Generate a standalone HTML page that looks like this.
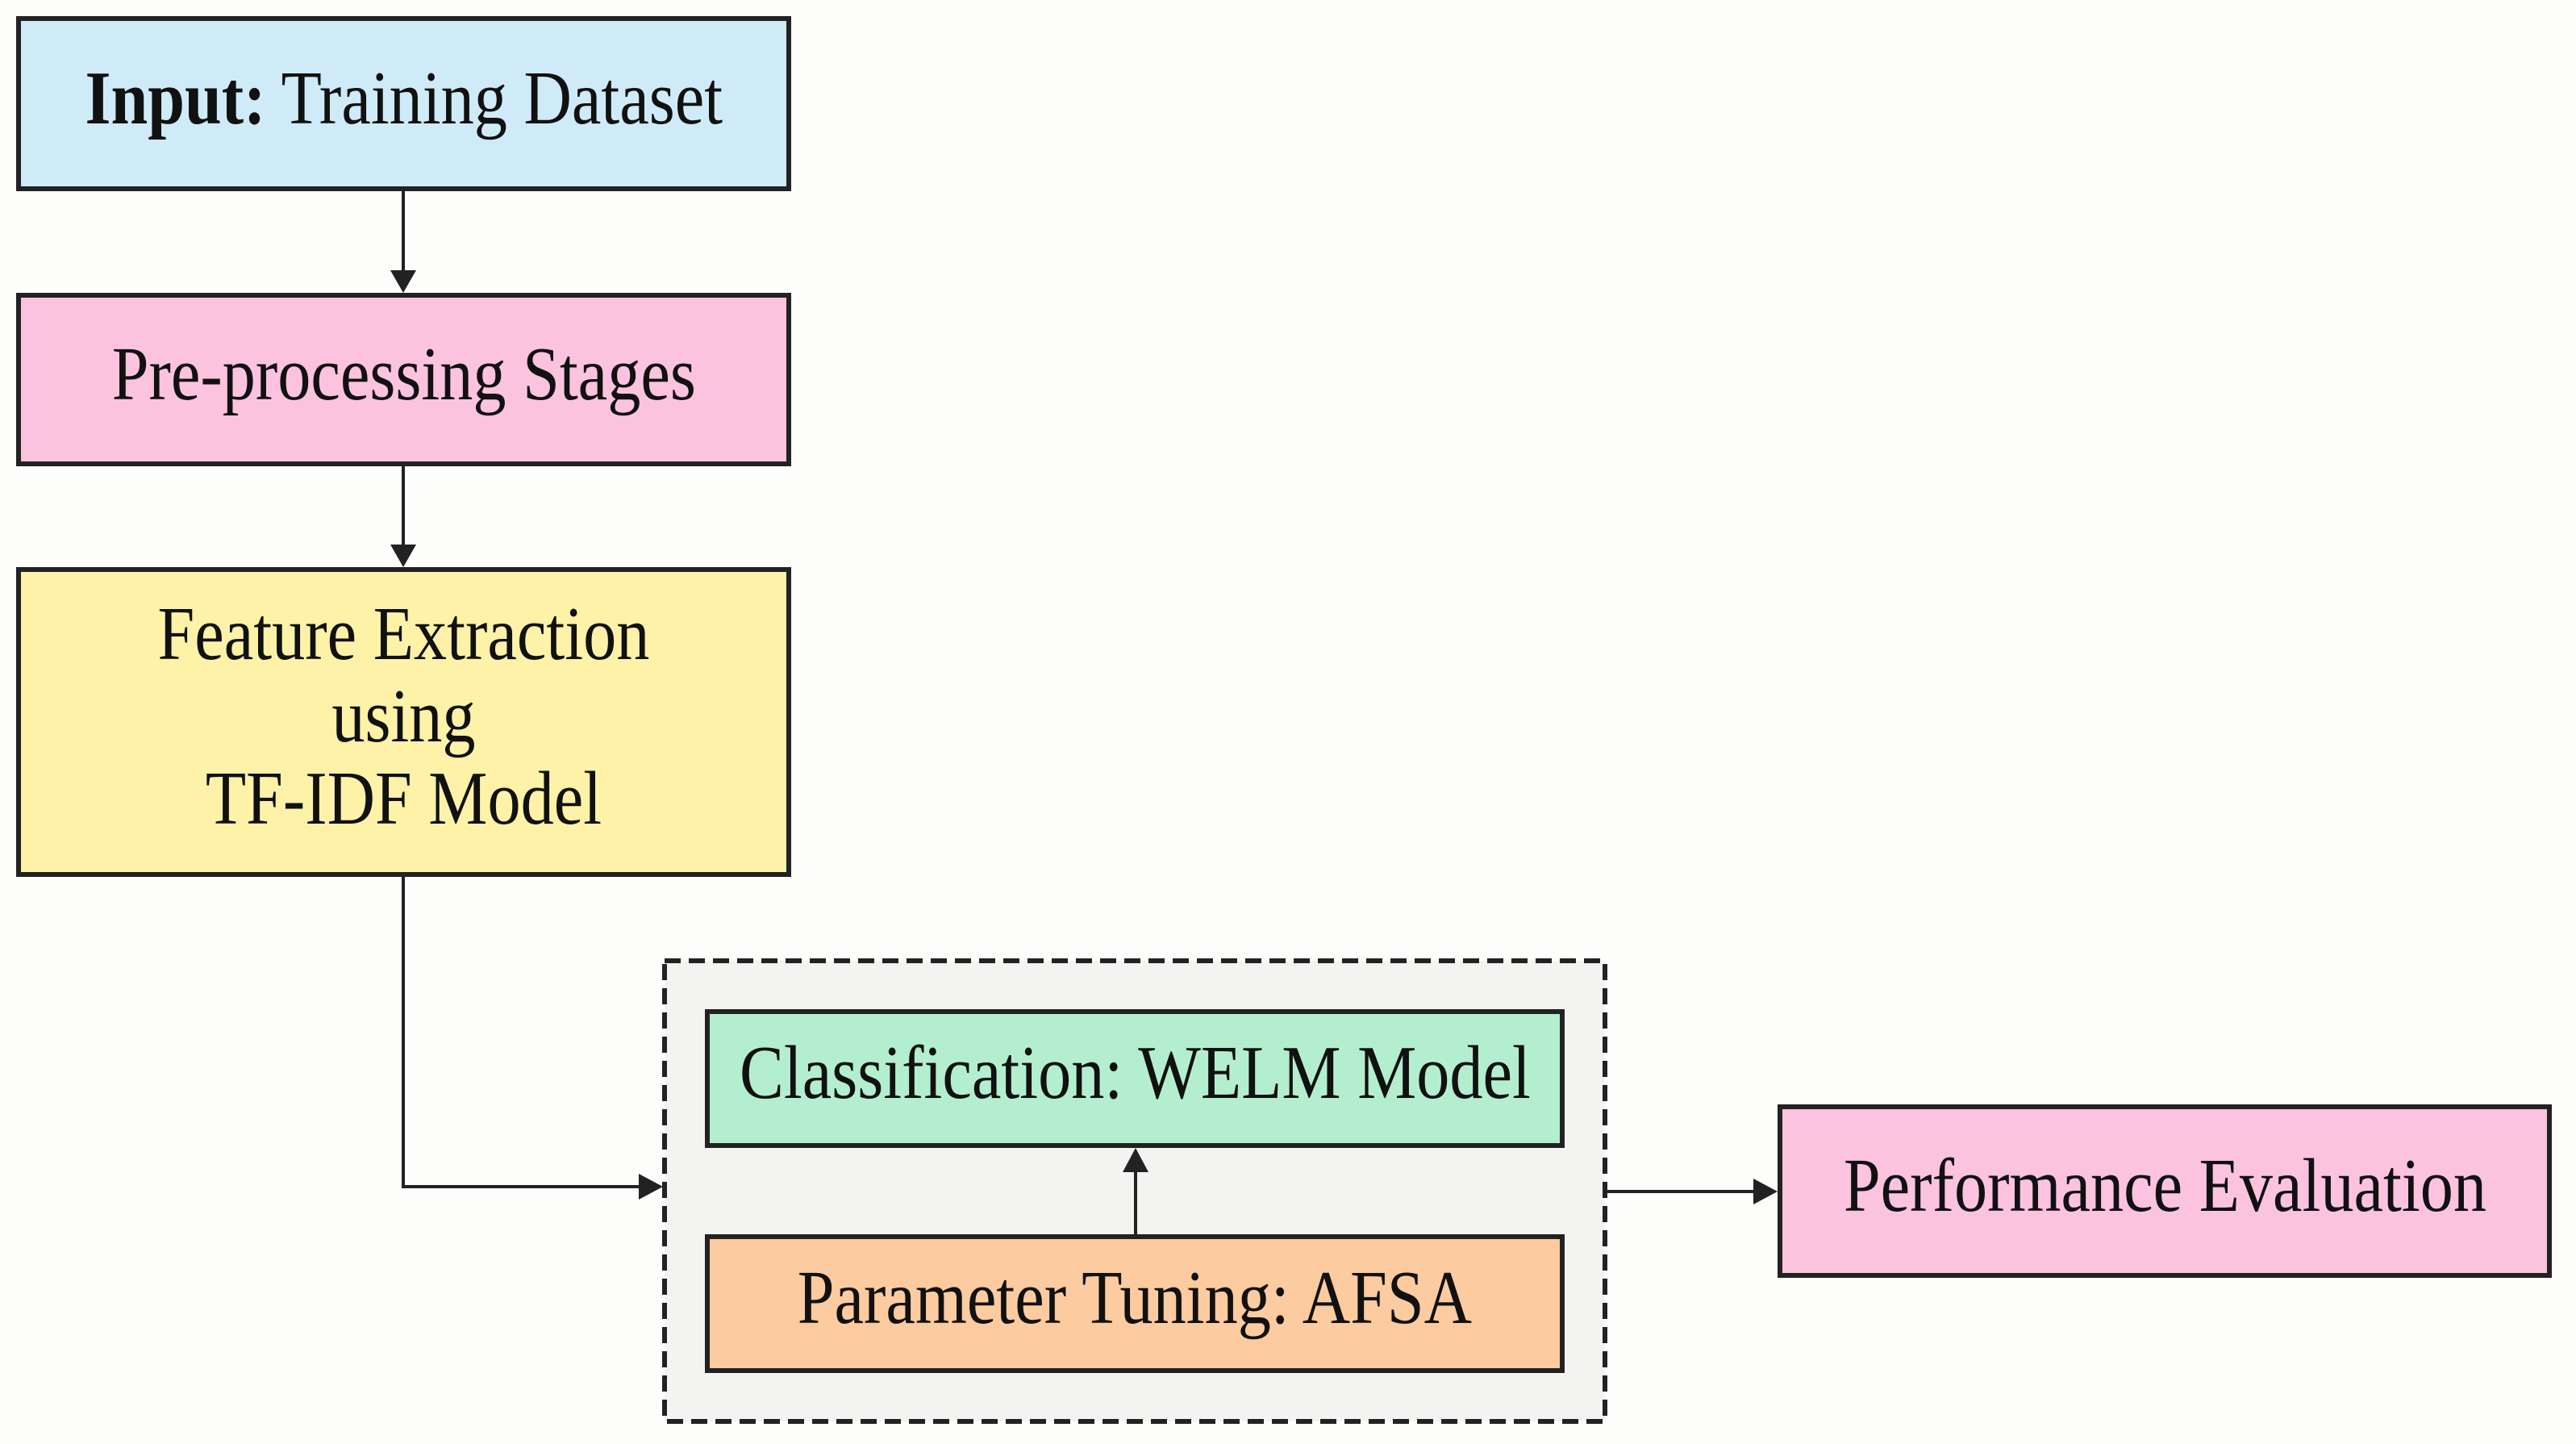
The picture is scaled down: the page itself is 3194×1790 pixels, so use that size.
<!DOCTYPE html>
<html><head><meta charset="utf-8"><style>
html,body{margin:0;padding:0;background:#fdfdfb;}
body{width:3194px;height:1790px;position:relative;overflow:hidden;font-family:"Liberation Serif",serif;color:#111;}
.b{position:absolute;box-sizing:border-box;border:6px solid #222;display:flex;align-items:center;justify-content:center;text-align:center;}
.b span{display:inline-block;font-size:94px;line-height:102px;transform:translateY(-7px) scaleX(0.875);white-space:nowrap;}
</style></head><body>
<div class="b" style="left:20px;top:20px;width:961px;height:217px;background:#d0ebf8"><span><b>Input:</b> Training Dataset</span></div>
<div class="b" style="left:20px;top:363px;width:961px;height:215px;background:#fcc3df"><span>Pre-processing Stages</span></div>
<div class="b" style="left:20px;top:703px;width:961px;height:384px;background:#fdf2a8"><span>Feature Extraction<br>using<br>TF-IDF Model</span></div>
<svg width="3194" height="1790" style="position:absolute;left:0;top:0">
<rect x="824" y="1191" width="1166" height="571" fill="#f3f3f2" stroke="#222" stroke-width="6" stroke-dasharray="20 10"/>
</svg>
<div class="b" style="left:874px;top:1251px;width:1066px;height:172px;background:#b3efcf"><span>Classification: WELM Model</span></div>
<div class="b" style="left:874px;top:1530px;width:1066px;height:172px;background:#fccb9f"><span>Parameter Tuning: AFSA</span></div>
<div class="b" style="left:2204px;top:1369px;width:960px;height:215px;background:#fcc3df"><span>Performance Evaluation</span></div>
<svg width="3194" height="1790" style="position:absolute;left:0;top:0" fill="none" stroke="#222" stroke-width="4">
<line x1="500" y1="237" x2="500" y2="339"/><polygon points="484,335 516,335 500,363" fill="#222" stroke="none"/>
<line x1="500" y1="578" x2="500" y2="679"/><polygon points="484,675 516,675 500,703" fill="#222" stroke="none"/>
<polyline points="500,1087 500,1471 797,1471"/><polygon points="792,1455 792,1487 822,1471" fill="#222" stroke="none"/>
<line x1="1993" y1="1477" x2="2179" y2="1477"/><polygon points="2174,1461 2174,1493 2204,1477" fill="#222" stroke="none"/>
<line x1="1408" y1="1530" x2="1408" y2="1448"/><polygon points="1392,1453 1424,1453 1408,1423" fill="#222" stroke="none"/>
</svg>
</body></html>
